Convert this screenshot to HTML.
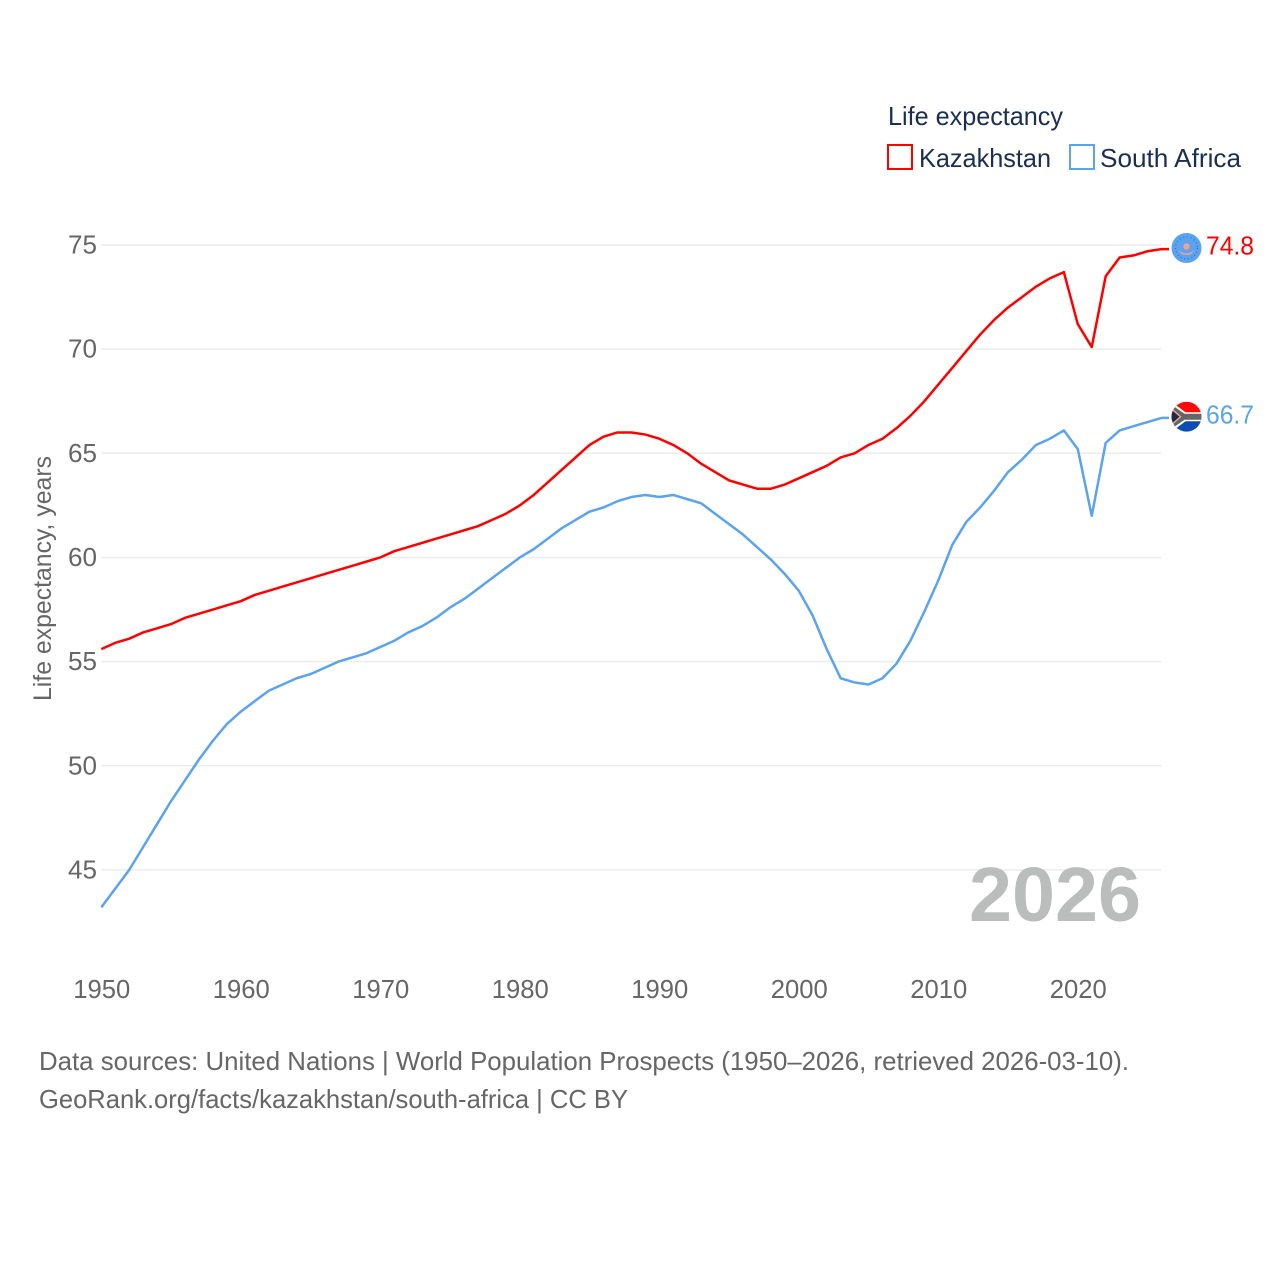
<!DOCTYPE html>
<html lang="en">
<head>
<meta charset="utf-8">
<title>Life expectancy: Kazakhstan and South Africa</title>
<style>
html,body{margin:0;padding:0;background:#fff;}
svg{display:block;font-family:"Liberation Sans",sans-serif;}
text{white-space:pre;}
</style>
</head>
<body>
<svg id="chart" width="1280" height="1280" viewBox="0 0 1280 1280" xmlns="http://www.w3.org/2000/svg">
  <rect width="1280" height="1280" fill="#fff"/>
  <g id="grid"></g>
  <g id="yticks"></g>
  <g id="xticks"></g>
  <text transform="translate(51,701) rotate(-90)" font-size="25" fill="#666" textLength="245" lengthAdjust="spacingAndGlyphs">Life expectancy, years</text>

  <text x="969" y="921" font-size="77" font-weight="700" fill="#bbbdbc" textLength="172" lengthAdjust="spacingAndGlyphs">2026</text>

  <g id="series"></g>

  <g>
    <text x="888" y="125" font-size="26" fill="#1a2f4f" textLength="175" lengthAdjust="spacingAndGlyphs">Life expectancy</text>
    <rect x="888" y="145" width="24" height="24" fill="#fff" stroke="#ff0000" stroke-width="2"/>
    <text x="919" y="167" font-size="26" fill="#1a2f4f" textLength="132" lengthAdjust="spacingAndGlyphs">Kazakhstan</text>
    <rect x="1070" y="145" width="24" height="24" fill="#fff" stroke="#5ba3ee" stroke-width="2"/>
    <text x="1100" y="167" font-size="26" fill="#1a2f4f" textLength="141" lengthAdjust="spacingAndGlyphs">South Africa</text>
  </g>

  <g>
    <text x="39" y="1070" font-size="26" fill="#666" textLength="1090" lengthAdjust="spacingAndGlyphs">Data sources: United Nations | World Population Prospects (1950–2026, retrieved 2026-03-10).</text>
    <text x="39" y="1108" font-size="26" fill="#666" textLength="589" lengthAdjust="spacingAndGlyphs">GeoRank.org/facts/kazakhstan/south-africa | CC BY</text>
  </g>

  <defs>
    <clipPath id="clip-kz"><circle cx="0" cy="0" r="15"/></clipPath>
    <clipPath id="clip-za"><circle cx="0" cy="0" r="15"/></clipPath>
  </defs>
  <g id="flag-kz" clip-path="url(#clip-kz)">
    <rect x="-15" y="-15" width="30" height="30" fill="#5ba3ee"/>
    <circle cx="0" cy="0" r="11" fill="none" stroke="#2a70c8" stroke-width="1.1" stroke-dasharray="1.1 2.6"/>
    <circle cx="0" cy="-1.5" r="3.2" fill="#f2a090"/>
    <path d="M-8 2 Q0 9 8 2 L5 6 Q0 8 -5 6 Z" fill="#f2a090"/>
  </g>
  <g id="flag-za" clip-path="url(#clip-za)">
    <rect x="-15" y="-15" width="30" height="15" fill="#ff0a0a"/>
    <rect x="-15" y="0" width="30" height="15" fill="#0b4db5"/>
    <path d="M-15 -15 L-1 -4.5 L15 -4.5 L15 4.5 L-1 4.5 L-15 15 Z" fill="#fff"/>
    <path d="M-15 -12 L-2 -3 L15 -3 L15 3 L-2 3 L-15 12 Z" fill="#666"/>
    <path d="M-15 -9 L-5 0 L-15 9 Z" fill="#f0a898"/>
    <path d="M-15 -7 L-7 0 L-15 7 Z" fill="#1f2a44"/>
  </g>
  <text id="label-kz" x="1206" font-size="26" fill="#ff0000" textLength="48" lengthAdjust="spacingAndGlyphs"></text>
  <text id="label-za" x="1206" font-size="26" fill="#5ba3ee" textLength="48" lengthAdjust="spacingAndGlyphs"></text>
</svg>
<script>
const startYear = 1950;
const kazakhstan = [55.6,55.9,56.1,56.4,56.6,56.8,57.1,57.3,57.5,57.7,57.9,58.2,58.4,58.6,58.8,59.0,59.2,59.4,59.6,59.8,60.0,60.3,60.5,60.7,60.9,61.1,61.3,61.5,61.8,62.1,62.5,63.0,63.6,64.2,64.8,65.4,65.8,66.0,66.0,65.9,65.7,65.4,65.0,64.5,64.1,63.7,63.5,63.3,63.3,63.5,63.8,64.1,64.4,64.8,65.0,65.4,65.7,66.2,66.8,67.5,68.3,69.1,69.9,70.7,71.4,72.0,72.5,73.0,73.4,73.7,71.2,70.1,73.5,74.4,74.5,74.7,74.8];
const southAfrica = [43.2,44.1,45.0,46.1,47.2,48.3,49.3,50.3,51.2,52.0,52.6,53.1,53.6,53.9,54.2,54.4,54.7,55.0,55.2,55.4,55.7,56.0,56.4,56.7,57.1,57.6,58.0,58.5,59.0,59.5,60.0,60.4,60.9,61.4,61.8,62.2,62.4,62.7,62.9,63.0,62.9,63.0,62.8,62.6,62.1,61.6,61.1,60.5,59.9,59.2,58.4,57.2,55.6,54.2,54.0,53.9,54.2,54.9,56.0,57.4,58.9,60.6,61.7,62.4,63.2,64.1,64.7,65.4,65.7,66.1,65.2,62.0,65.5,66.1,66.3,66.5,66.7];
const yTicks = [45,50,55,60,65,70,75];
const xTicks = [1950,1960,1970,1980,1990,2000,2010,2020];

const NS = 'http://www.w3.org/2000/svg';
const xScale = year => 101.3 + (year - 1950) * 13.95;
const yScale = value => 245 + (75 - value) * 20.83;
const plotRight = xScale(2026);

function make(tag, attrs, parent) {
  const el = document.createElementNS(NS, tag);
  for (const k in attrs) el.setAttribute(k, attrs[k]);
  parent.appendChild(el);
  return el;
}

const gridG = document.getElementById('grid');
const yG = document.getElementById('yticks');
yTicks.forEach(t => {
  const line = make('line', {x1: xScale(1950), x2: plotRight, y1: yScale(t), y2: yScale(t), stroke: '#ececec', 'stroke-width': 1.5}, gridG);
  
  
  const label = make('text', {x: 97, y: yScale(t) + 8.5, 'text-anchor': 'end', 'font-size': 26, fill: '#666', textLength: 29, lengthAdjust: 'spacingAndGlyphs'}, yG);
  
  
  label.textContent = t;
});

const xG = document.getElementById('xticks');
xTicks.forEach(t => {
  const label = make('text', {x: xScale(t) + 0.5, y: 998, 'text-anchor': 'middle', 'font-size': 26, fill: '#666', textLength: 57, lengthAdjust: 'spacingAndGlyphs'}, xG);
  
  
  label.textContent = t;
});

const seriesG = document.getElementById('series');
function drawSeries(values, color, name) {
  const pts = values.map((v, i) => xScale(startYear + i).toFixed(2) + ',' + yScale(v).toFixed(2));
  const lastX = xScale(startYear + values.length - 1);
  const lastY = yScale(values[values.length - 1]);
  pts.push((lastX + 7.5).toFixed(2) + ',' + lastY.toFixed(2));
  const line = make('polyline', {points: pts.join(' '), fill: 'none', stroke: color, 'stroke-width': 2.5, 'stroke-linejoin': 'round'}, seriesG);
  
  
}
drawSeries(southAfrica, '#5ba3ee', 'south-africa-line');
drawSeries(kazakhstan, '#ff0000', 'kazakhstan-line');

function placeEnd(values, flagId, labelId) {
  const v = values[values.length - 1];
  const y = yScale(v);
  document.getElementById(flagId).setAttribute('transform', 'translate(1186.5,' + (y - 1.2) + ')');
  const label = document.getElementById(labelId);
  label.setAttribute('y', y + 5.5);
  label.textContent = v.toFixed(1);
}
placeEnd(kazakhstan, 'flag-kz', 'label-kz');
placeEnd(southAfrica, 'flag-za', 'label-za');
</script>
</body>
</html>
